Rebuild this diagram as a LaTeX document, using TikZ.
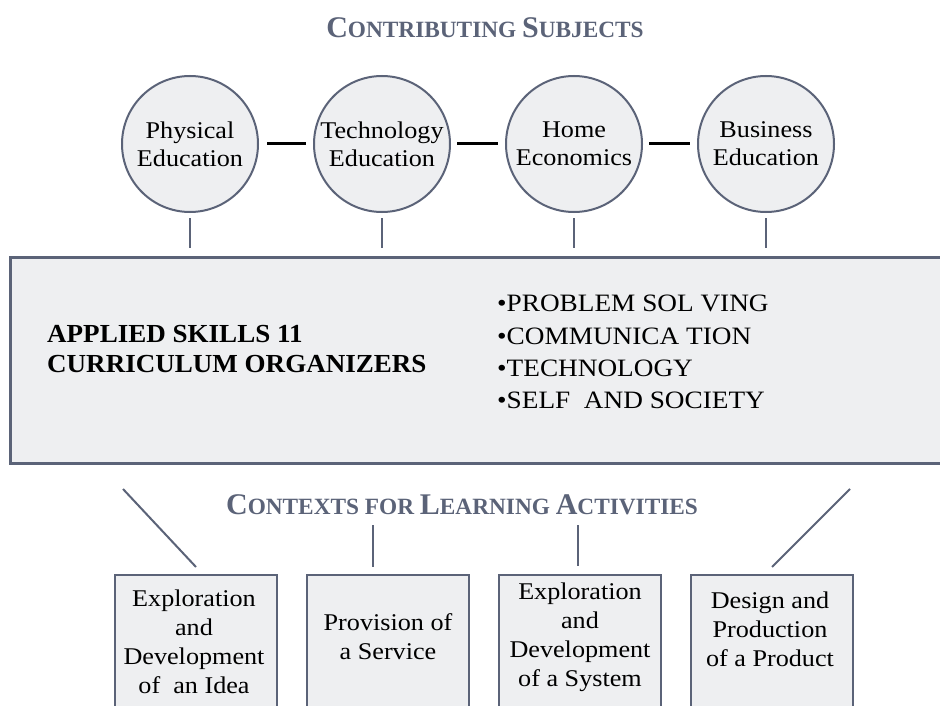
\documentclass[tikz,border=0pt]{standalone}
\usepackage{fontspec}
\setmainfont{Liberation Serif}[FakeStretch=1.09, BoldFeatures={FakeStretch=1.04}]
\newfontfamily\headfont{Liberation Serif}
\definecolor{slate}{HTML}{5B6378}
\definecolor{boxfill}{HTML}{EEEFF1}
\newcommand\capL{\fontsize{30}{30}\selectfont}
\newcommand\capS{\fontsize{23.3}{23.3}\selectfont}
\newcommand\ctxL{\fontsize{30}{30}\selectfont}
\newcommand\ctxS{\fontsize{23.3}{23.3}\selectfont}
\tikzset{
  subj/.style={circle, draw=slate, line width=2pt, fill=boxfill, minimum size=136pt,
    inner sep=0pt, align=center, font=\fontsize{24}{28}\selectfont},
  bigbox/.style={rectangle, draw=slate, line width=3pt, fill=boxfill},
  ctxbox/.style={rectangle, draw=slate, line width=2pt, fill=boxfill,
    minimum width=162pt, minimum height=170pt, anchor=north, inner sep=0pt},
  ctxtext/.style={align=center, inner sep=0pt, font=\fontsize{24}{29}\selectfont},
  thinline/.style={draw=slate, line width=2pt},
  blackline/.style={draw=black, line width=3pt},
  heading/.style={text=slate, inner sep=0pt, font=\headfont\bfseries}
}
\begin{document}
\begin{tikzpicture}[x=1pt,y=-1pt]
\useasboundingbox (0,0) rectangle (940,706);
\fill[white] (0,0) rectangle (940,706);

% title
\node[heading] (t1) at (485,28) {\capL C\capS ONTRIBUTING \capL S\capS UBJECTS};

% circles
\node[subj] (c1) at (190,144) {Physical\\Education};
\node[subj] (c2) at (382,144) {Technology\\Education};
\node[subj] (c3) at (574,144) {Home\\Economics};
\node[subj] (c4) at (766,144) {Business\\Education};

\draw[blackline, shorten <=8pt, shorten >=7pt] (c1.east) -- (c2.west);
\draw[blackline, shorten <=6pt, shorten >=7pt] (c2.east) -- (c3.west);
\draw[blackline, shorten <=6pt, shorten >=7pt] (c3.east) -- (c4.west);

% big box
\node[bigbox, minimum width=944pt, minimum height=206pt] (big) at (482,360) {};
\node[anchor=west, align=left, inner sep=0pt, font=\bfseries\fontsize{26}{30}\selectfont] (org) at (47,349)
  {APPLIED SKILLS 11\\CURRICULUM ORGANIZERS};
\node[anchor=west, align=left, inner sep=0pt, font=\fontsize{25}{32.3}\selectfont] (list) at (497,352)
  {\textbullet PROBLEM SOL VING\\\textbullet COMMUNICA TION\\\textbullet TECHNOLOGY\\\textbullet SELF\ \ AND SOCIETY};

\foreach \c in {c1,c2,c3,c4}
  \draw[thinline, shorten <=5pt, shorten >=8pt] (\c.south) -- (\c.south |- big.north);

% contexts heading
\node[heading] (t2) at (462,505) {\ctxL C\ctxS ONTEXTS FOR \ctxL L\ctxS EARNING \ctxL A\ctxS CTIVITIES};

% bottom boxes
\node[ctxbox] (b1) at (196,574) {};
\node[ctxbox] (b2) at (388,574) {};
\node[ctxbox] (b3) at (580,574) {};
\node[ctxbox] (b4) at (772,574) {};
\node[ctxtext] (b1t) at (194,642) {Exploration\\and\\Development\\of\ \ an Idea};
\node[ctxtext] (b2t) at (388,637) {Provision of\\a Service};
\node[ctxtext] (b3t) at (580,637) {Exploration\\and\\Development\\of a System};
\node[ctxtext] (b4t) at (770,629) {Design and\\Production\\of a Product};

% connectors to contexts
\coordinate (d1) at (123,489);
\coordinate (d4) at (850,489);
\coordinate (v2) at (373,525);
\coordinate (v3) at (578,525);
\draw[thinline] (d1) -- ([yshift=7pt]b1.north);
\draw[thinline] (d4) -- ([yshift=7pt]b4.north);
\draw[thinline, shorten >=7pt] (v2) -- (v2 |- b2.north);
\draw[thinline, shorten >=8pt] (v3) -- (v3 |- b3.north);
\end{tikzpicture}
\end{document}
